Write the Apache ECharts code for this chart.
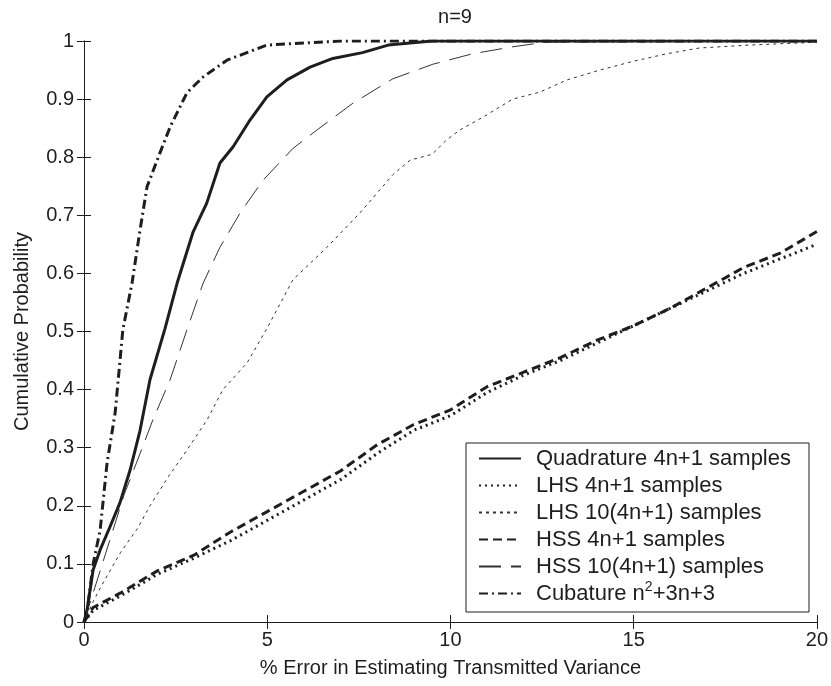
<!DOCTYPE html>
<html>
<head>
<meta charset="utf-8">
<script src="https://cdn.jsdelivr.net/npm/echarts@6/dist/echarts.min.js"></script>
<style>
  html, body { margin: 0; padding: 0; background: #fff; }
  #chart { width: 831px; height: 686px; }
</style>
</head>
<body>
<div id="chart"></div>
<script>
// cumulative probability curves, [% error, probability]
const quadrature = [[0,0],[0.08,0.02],[0.25,0.09],[0.44,0.124],[0.71,0.164],[0.98,0.205],[1.26,0.262],[1.53,0.33],[1.8,0.417],[2.21,0.505],[2.54,0.583],[2.97,0.67],[3.35,0.721],[3.71,0.79],[4.07,0.818],[4.53,0.864],[4.99,0.904],[5.54,0.933],[6.17,0.955],[6.79,0.97],[7.6,0.98],[8.3,0.993],[9.5,1],[20,1]];
const lhs4 = [[0,0],[0.25,0.02],[1,0.045],[2,0.082],[3,0.11],[4,0.14],[5,0.175],[6,0.21],[7,0.245],[8,0.29],[9,0.33],[10,0.355],[11,0.395],[12,0.425],[13,0.45],[14,0.48],[15,0.51],[16,0.54],[17,0.57],[18,0.6],[19,0.625],[20,0.65]];
const lhs10 = [[0,0],[0.25,0.035],[0.5,0.065],[1,0.12],[1.45,0.16],[1.8,0.2],[2.3,0.25],[2.81,0.296],[3.36,0.348],[3.79,0.4],[4.45,0.446],[4.99,0.505],[5.7,0.589],[6.63,0.645],[7.53,0.704],[8.43,0.77],[8.9,0.795],[9.5,0.805],[9.9,0.83],[10.26,0.847],[10.89,0.869],[11.7,0.9],[12.44,0.912],[13.18,0.933],[14.08,0.95],[14.98,0.965],[15.9,0.978],[16.8,0.988],[18.17,0.993],[20,0.998]];
const hss4 = [[0,0],[0.25,0.025],[1,0.05],[2,0.088],[3,0.115],[4,0.155],[5,0.19],[6,0.225],[7,0.26],[8,0.305],[9,0.34],[10,0.365],[11,0.405],[12,0.43],[13,0.455],[14,0.485],[15,0.51],[16,0.54],[17,0.575],[18,0.61],[19,0.635],[20,0.672]];
const hss10 = [[0,0],[0.3,0.06],[0.7,0.14],[1.1,0.22],[1.53,0.29],[1.88,0.348],[2.35,0.417],[2.81,0.503],[3.25,0.583],[3.71,0.645],[4.26,0.704],[4.88,0.76],[5.7,0.815],[6.36,0.847],[7.34,0.893],[8.43,0.935],[9.52,0.96],[10.6,0.978],[11.7,0.99],[12.6,0.998],[20,1]];
const cubature = [[0,0],[0.08,0.015],[0.25,0.1],[0.44,0.158],[0.63,0.274],[0.85,0.36],[1.06,0.503],[1.31,0.583],[1.53,0.675],[1.72,0.749],[2.07,0.807],[2.35,0.852],[2.81,0.911],[3.25,0.938],[3.9,0.967],[4.99,0.993],[7,1],[20,1]];

const names = [
  "Quadrature 4n+1 samples",
  "LHS 4n+1 samples",
  "LHS 10(4n+1) samples",
  "HSS 4n+1 samples",
  "HSS 10(4n+1) samples",
  "Cubature n{sup|2}+3n+3"
];

const font = "'Liberation Sans', Arial, sans-serif";
const ink = "#1e1e1e";

var chart = echarts.init(document.getElementById("chart"));

const tickStyle = { inside: true, length: 7, lineStyle: { color: ink, width: 1 } };
const lineAxis = { lineStyle: { color: ink, width: 1 } };

function mkSeries(name, data, width, type, color) {
  return {
    name: name,
    type: "line",
    data: data,
    showSymbol: false,
    symbol: "none",
    xAxisIndex: 0,
    yAxisIndex: 0,
    lineStyle: { color: color, width: width, type: type },
    itemStyle: { color: color }
  };
}

chart.setOption({
  animation: false,
  backgroundColor: "#fff",
  title: {
    text: "n=9",
    left: 450,
    textAlign: "center",
    top: 2,
    textStyle: { fontFamily: font, fontSize: 20, fontWeight: "normal", color: ink }
  },
  grid: { left: 84, right: 14, top: 41, bottom: 64, containLabel: false },
  legend: {
    orient: "vertical",
    left: 466,
    top: 443,
    padding: [2, 18, 5, 12],
    itemGap: 0,
    itemWidth: 42,
    itemHeight: 14,
    backgroundColor: "#fff",
    borderColor: ink,
    borderWidth: 1,
    borderRadius: 0,
    selectedMode: false,
    itemStyle: { opacity: 0 },
    data: names,
    textStyle: {
      fontFamily: font,
      fontSize: 22,
      color: ink,
      lineHeight: 27,
      padding: [0, 0, 0, 10],
      rich: {
        sup: { fontFamily: font, fontSize: 14, color: ink, verticalAlign: "top", padding: [0, 0, 10, 0] }
      }
    }
  },
  xAxis: [
    {
      type: "value",
      min: 0, max: 20, interval: 5,
      name: "% Error in Estimating Transmitted Variance",
      nameLocation: "middle",
      nameGap: 36,
      nameTextStyle: { fontFamily: font, fontSize: 20, color: ink },
      axisLine: lineAxis,
      axisTick: tickStyle,
      axisLabel: { fontFamily: font, fontSize: 20, color: ink, margin: 8 },
      splitLine: { show: false }
    },
    {
      type: "value",
      position: "top",
      min: 0, max: 20, interval: 5,
      axisLine: lineAxis,
      axisTick: tickStyle,
      axisLabel: { show: false },
      splitLine: { show: false }
    }
  ],
  yAxis: [
    {
      type: "value",
      min: 0, max: 1, interval: 0.1,
      name: "Cumulative Probability",
      nameLocation: "middle",
      nameGap: 52,
      nameTextStyle: { fontFamily: font, fontSize: 20, color: ink },
      axisLine: { show: true, lineStyle: { color: ink, width: 1 } },
      axisTick: tickStyle,
      axisLabel: { fontFamily: font, fontSize: 20, color: ink, margin: 10 },
      splitLine: { show: false }
    },
    {
      type: "value",
      position: "right",
      min: 0, max: 1, interval: 0.1,
      axisLine: { show: true, lineStyle: { color: ink, width: 1 } },
      axisTick: tickStyle,
      axisLabel: { show: false },
      splitLine: { show: false }
    }
  ],
  series: [
    mkSeries(names[0], quadrature, 3, "solid", ink),
    mkSeries(names[1], lhs4, 3, [2, 4], ink),
    mkSeries(names[2], lhs10, 1, [3, 4], "#333"),
    mkSeries(names[3], hss4, 3, [9, 5], ink),
    mkSeries(names[4], hss10, 1, [22, 10], "#333"),
    mkSeries(names[5], cubature, 3, [9, 4, 2, 4], ink)
  ]
});
</script>
</body>
</html>
